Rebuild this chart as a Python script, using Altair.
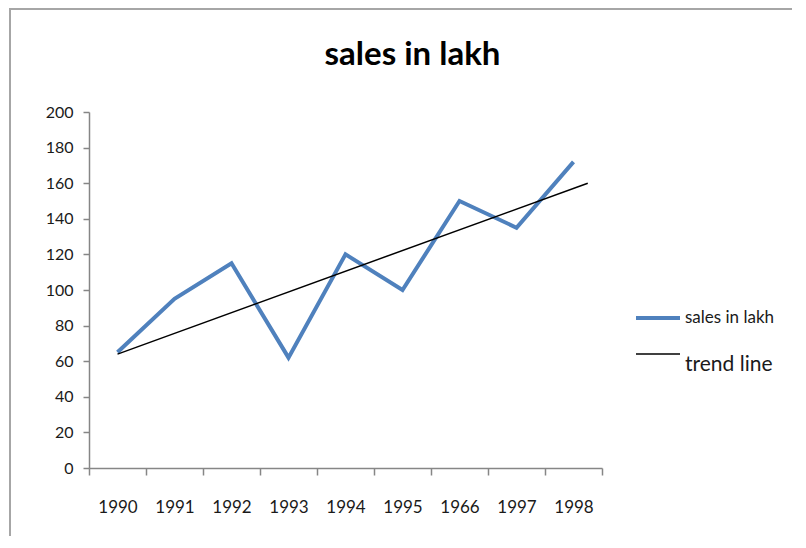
import altair as alt
import pandas as pd

# ---- data ----
YEARS = ["1990", "1991", "1992", "1993", "1994", "1995", "1966", "1997", "1998"]
SALES = [65, 95, 115, 62, 120, 100, 150, 135, 172]
TREND_POS = [0, 8.25]
TREND_VAL = [64, 160]
Y_TICKS = [0, 20, 40, 60, 80, 100, 120, 140, 160, 180, 200]
SERIES = ["sales in lakh", "trend line"]
COLORS = ["#4F81BD", "#000000"]
WIDTHS = [4, 1.5]

FONT = "Lato"

sales_df = pd.DataFrame({
    "pos": list(range(len(YEARS))),
    "year": YEARS,
    "value": SALES,
    "series": SERIES[0],
})
trend_df = pd.DataFrame({"pos": TREND_POS, "value": TREND_VAL, "series": SERIES[1]})

W, H = 513, 356
PAD_L, PAD_T = 81, 104

boundaries = [i - 0.5 for i in range(len(YEARS) + 1)]
centres = list(range(len(YEARS)))

label_expr = "''"
for i in reversed(range(len(YEARS))):
    label_expr = f"datum.value == {i} ? '{YEARS[i]}' : ({label_expr})"

x_scale = alt.Scale(domain=[-0.5, len(YEARS) - 0.5], nice=False, zero=False)
y_scale = alt.Scale(domain=[0, 200], nice=False)

x_axis = alt.Axis(
    values=sorted(boundaries + centres),
    labelExpr=label_expr,
    labelOverlap=False,
    labelFlush=False,
    labelFont=FONT,
    labelFontSize=17,
    labelColor="#1a1a1a",
    labelPadding=24,
    tickSize=7,
    tickColor="#868686",
    tickOpacity={"condition": {"test": "datum.value % 1 != 0", "value": 1}, "value": 0},
    domainColor="#868686",
    domainWidth=1.5,
    tickWidth=1.5,
    grid=False,
    title=None,
)
y_axis = alt.Axis(
    values=Y_TICKS,
    labelOverlap=False,
    labelFlush=False,
    labelFont=FONT,
    labelFontSize=16,
    labelColor="#1a1a1a",
    labelPadding=10,
    tickSize=6,
    tickColor="#868686",
    tickWidth=1.5,
    domainColor="#868686",
    domainWidth=1.5,
    grid=False,
    title=None,
)

color = alt.Color(
    "series:N",
    scale=alt.Scale(domain=SERIES, range=COLORS),
    legend=alt.Legend(
        title=None,
        orient="none",
        legendX=545,
        legendY=182,
        symbolType="stroke",
        symbolSize=1936,
        labelFont=FONT,
        labelFontSize=alt.ExprRef("datum.label == 'trend line' ? 21 : 17"),
        labelBaseline=alt.ExprRef("datum.label == 'trend line' ? 'top' : 'middle'"),
        labelColor="#1a1a1a",
        rowPadding=5,
        labelOffset=3,
    ),
)
stroke_w = alt.StrokeWidth(
    "series:N",
    scale=alt.Scale(domain=SERIES, range=WIDTHS),
    legend=None,
)

frame = alt.Chart(pd.DataFrame({"k": [0]})).mark_rect(
    fill=None, stroke="#a6a6a6", strokeWidth=2
).encode(
    x=alt.value(-PAD_L + 2),
    x2=alt.value(W + 300),
    y=alt.value(-PAD_T + 1),
    y2=alt.value(H + 300),
)

sales_line = alt.Chart(sales_df).mark_line(strokeJoin="miter").encode(
    x=alt.X("pos:Q", scale=x_scale, axis=x_axis),
    y=alt.Y("value:Q", scale=y_scale, axis=y_axis),
    color=color,
    strokeWidth=stroke_w,
    order="pos:Q",
)

trend_line = alt.Chart(trend_df).mark_line().encode(
    x=alt.X("pos:Q", scale=x_scale, axis=x_axis),
    y=alt.Y("value:Q", scale=y_scale, axis=y_axis),
    color=color,
    strokeWidth=stroke_w,
)

chart = alt.layer(frame, sales_line, trend_line).properties(
    width=W,
    height=H,
    padding={"left": PAD_L, "top": PAD_T, "right": 190, "bottom": 68},
    autosize=alt.AutoSizeParams(type="none"),
    title=alt.TitleParams(
        "sales in lakh",
        font=FONT,
        fontSize=33,
        fontWeight="bold",
        color="#000000",
        anchor="middle",
        frame="group",
        dx=67,
        baseline="alphabetic",
        offset=-90,
    ),
).configure(background="white", view=alt.ViewConfig(stroke=None))

chart.save("out.html", embed_options={"renderer": "svg", "actions": False})
